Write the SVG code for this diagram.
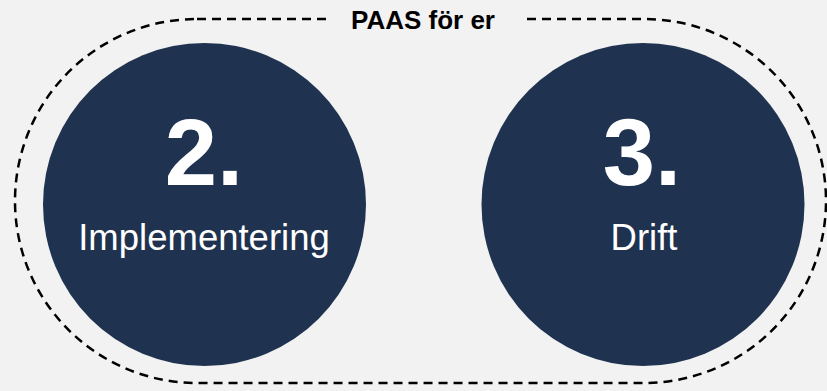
<svg xmlns="http://www.w3.org/2000/svg" width="827" height="391" viewBox="0 0 827 391">
<style>
.circle{fill:#1f3250}
.num{font-family:"Liberation Sans",Arial,sans-serif;font-weight:bold;font-size:94px;fill:#ffffff;text-anchor:middle}
.lbl{font-family:"Liberation Sans",Arial,sans-serif;font-size:36.5px;fill:#ffffff;text-anchor:middle}
.title{font-family:"Liberation Sans",Arial,sans-serif;font-weight:bold;font-size:26px;fill:#000000;text-anchor:middle}
</style>
<rect width="827" height="391" fill="#f2f2f2"/>
<g id="group-outline">
<rect x="15" y="19" width="811" height="364" rx="182" ry="182" fill="none" stroke="#000" stroke-width="2.5" stroke-dasharray="9,6"/>
<rect x="330" y="8" width="195" height="24" fill="#f2f2f2"/>
<text class="title" x="423" y="29">PAAS för er</text>
</g>
<g id="node-2">
<circle class="circle" cx="204.5" cy="204.5" r="161.5"/>
<text class="num" x="204" y="185">2.</text>
<text class="lbl" x="204" y="250">Implementering</text>
</g>
<g id="node-3">
<circle class="circle" cx="643" cy="204.5" r="161.5"/>
<text class="num" x="642" y="185">3.</text>
<text class="lbl" x="644" y="250">Drift</text>
</g>
<g id="connectors"></g>
</svg>
